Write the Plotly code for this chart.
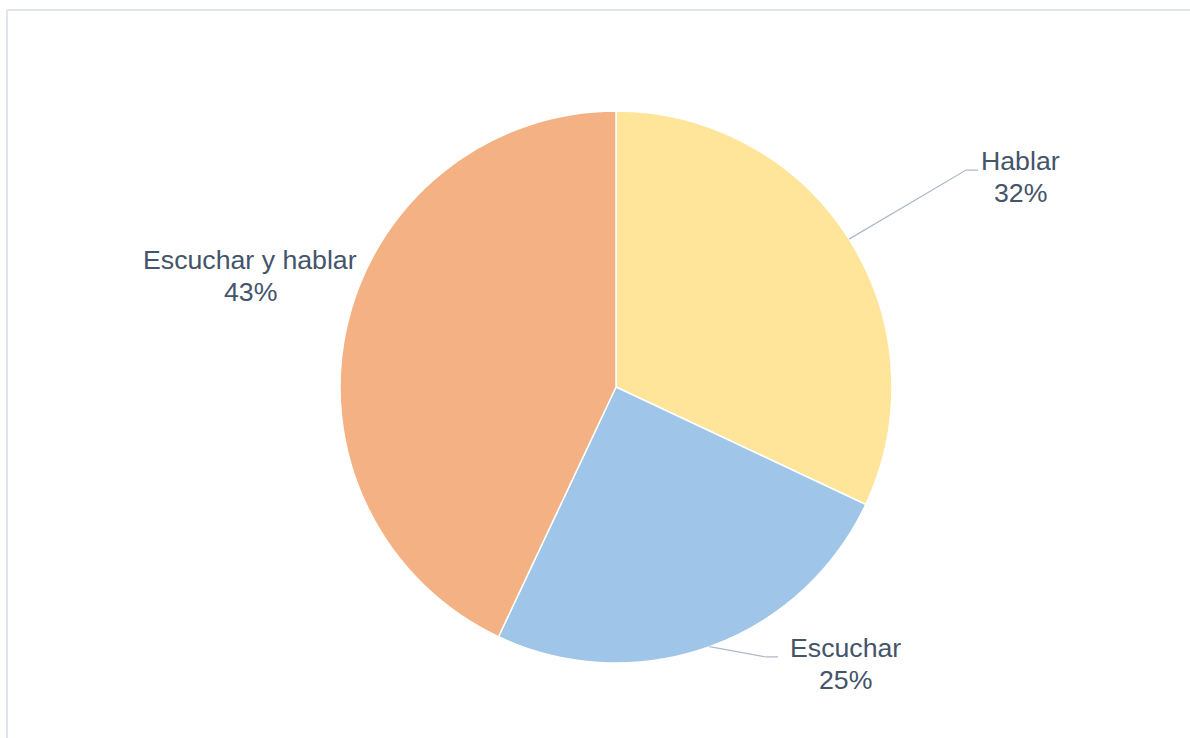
import math
import plotly.graph_objects as go

# Survey shares by activity
categories = ["Hablar", "Escuchar", "Escuchar y hablar"]
values = [32, 25, 43]
colors = ["#FFE599", "#9FC5E8", "#F4B183"]

W, H = 1190, 738
cx, cy, r = 616, 387, 276  # pie centre and radius in pixels

fig = go.Figure(go.Pie(
    labels=categories,
    values=values,
    sort=False,
    direction="clockwise",
    rotation=0,
    textinfo="none",
    hoverinfo="label+percent",
    marker=dict(colors=colors, line=dict(color="white", width=1.5)),
    domain=dict(x=[(cx - r) / W, (cx + r) / W],
                y=[(H - cy - r) / H, (H - cy + r) / H]),
    showlegend=False,
))

# Label placement in pixels: leader elbow, leader end, centre of first text line
label_cfg = {
    "Hablar": dict(elbow=(966, 170), end=(978, 170), text=(1021, 161), leader=True),
    "Escuchar": dict(elbow=(766, 657), end=(778, 657), text=(845, 648), leader=True),
    "Escuchar y hablar": dict(elbow=None, end=None, text=(250, 260), leader=False),
}
LINE_GAP = 32
FONT = dict(family="Liberation Sans, Arial", size=26.7, color="#44546A")


def px(x):
    return x / W


def py(y):
    return 1 - y / H


total = sum(values)
cum = 0
shapes = []
annotations = []
for cat, val in zip(categories, values):
    mid = (cum + val / 2) / total * 2 * math.pi
    cum += val
    ex = cx + r * math.sin(mid)
    ey = cy - r * math.cos(mid)
    cfg = label_cfg[cat]
    if cfg["leader"]:
        path = "M {:.4f},{:.4f} L {:.4f},{:.4f} L {:.4f},{:.4f}".format(
            px(ex), py(ey), px(cfg["elbow"][0]), py(cfg["elbow"][1]),
            px(cfg["end"][0]), py(cfg["end"][1]))
        shapes.append(dict(type="path", xref="paper", yref="paper", path=path,
                           line=dict(color="#ADB9CA", width=1.2)))
    pct = round(val / total * 100)
    tx, ty = cfg["text"]
    for i, line in enumerate([cat, f"{pct}%"]):
        annotations.append(dict(
            x=px(tx), y=py(ty + i * LINE_GAP), xref="paper", yref="paper",
            text=line, showarrow=False, xanchor="center", yanchor="middle",
            font=FONT,
        ))

# Light frame around the chart area (top and left edges)
shapes.append(dict(type="line", xref="paper", yref="paper",
                   x0=px(7), y0=py(10), x1=px(W + 5), y1=py(10),
                   line=dict(color="#E1E4EA", width=2)))
shapes.append(dict(type="line", xref="paper", yref="paper",
                   x0=px(7), y0=py(10), x1=px(7), y1=py(H + 5),
                   line=dict(color="#E1E4EA", width=2)))

fig.update_layout(
    width=W, height=H,
    margin=dict(l=0, r=0, t=0, b=0),
    paper_bgcolor="white",
    plot_bgcolor="white",
    shapes=shapes,
    annotations=annotations,
)

fig.write_html("out.html")
